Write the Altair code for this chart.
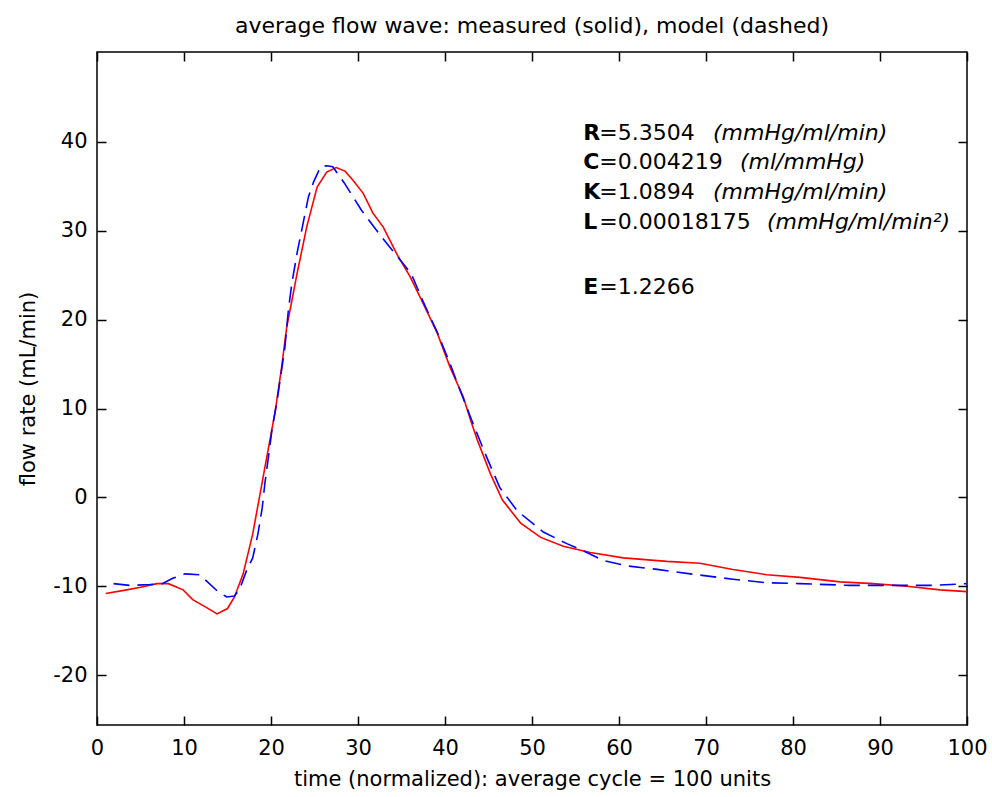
import altair as alt
import pandas as pd

# ---------------- data ----------------
measured_t = [1.0, 3.4, 5.0, 6.9, 8.2, 9.9, 11.0, 12.6, 13.8, 15.0, 15.8, 16.8, 17.9,
              19.1, 20.5, 21.2, 21.8, 23.0, 24.1, 25.3, 26.4, 27.5, 28.5, 29.4, 30.6,
              31.7, 32.9, 34.5, 36.0, 37.5, 39.1, 40.6, 42.1, 43.0, 43.7, 45.2, 46.6,
              48.7, 51.0, 53.6, 56.7, 60.5, 65.5, 69.3, 73.1, 77.0, 80.8, 85.4, 89.2,
              93.1, 96.9, 100.0]
measured_v = [-10.8, -10.4, -10.1, -9.7, -9.7, -10.4, -11.5, -12.4, -13.1, -12.5, -11.2, -8.6, -4.1,
              2.3, 9.8, 14.5, 19.1, 25.2, 30.4, 34.9, 36.6, 37.1, 36.7, 35.7, 34.2,
              32.0, 30.4, 27.3, 24.8, 21.8, 18.5, 14.6, 11.3, 8.5, 6.5, 2.7, -0.3,
              -2.9, -4.5, -5.5, -6.2, -6.8, -7.2, -7.4, -8.1, -8.7, -9.0, -9.5, -9.7,
              -10.0, -10.4, -10.6]

model_t = [1.9, 3.8, 6.1, 7.5, 8.7, 10.1, 11.8, 13.8, 14.9, 15.8, 16.4, 17.2, 17.9,
           18.5, 19.0, 19.3, 19.7, 20.1, 20.7, 21.6, 22.0, 22.4, 23.0, 23.6, 24.3,
           24.9, 25.7, 26.4, 27.1, 28.4, 30.4, 32.7, 34.6, 36.1, 37.5, 39.1, 40.6,
           41.6, 43.3, 44.8, 46.3, 48.3, 51.3, 54.0, 55.9, 58.2, 60.9, 64.4, 68.2,
           73.1, 77.0, 80.8, 86.6, 92.3, 96.1, 100.0]
model_v = [-9.7, -9.9, -9.8, -9.7, -9.1, -8.6, -8.7, -10.5, -11.2, -11.1, -10.3, -8.2, -6.8,
           -4.1, -1.1, 1.6, 4.5, 7.5, 10.9, 16.9, 21.1, 24.1, 27.5, 30.4, 33.8,
           35.5, 37.2, 37.3, 37.2, 35.4, 32.3, 29.3, 27.0, 25.2, 22.0, 18.6, 15.0,
           12.4, 8.1, 4.5, 1.1, -1.5, -3.9, -5.2, -6.0, -7.1, -7.7, -8.1, -8.6,
           -9.2, -9.6, -9.7, -9.9, -9.9, -9.9, -9.7]

x_ticks = [0, 10, 20, 30, 40, 50, 60, 70, 80, 90, 100]
y_ticks = [-20, -10, 0, 10, 20, 30, 40]

param_letters = ["R", "C", "K", "L", "E"]
param_values = ["=5.3504", "=0.004219", "=1.0894", "=0.00018175", "=1.2266"]
param_units = ["(mmHg/ml/min)", "(ml/mmHg)", "(mmHg/ml/min)", "(mmHg/ml/min\u00b2)", ""]

title_text = "average flow wave: measured (solid), model (dashed)"
x_title = "time (normalized): average cycle = 100 units"
y_title = "flow rate (mL/min)"

# ---------------- annotation placement (layout, not data) ----------------
ann_x = 55.9                                   # left edge of the parameter block
ann_y = [40.2, 36.9, 33.6, 30.2, 22.9]         # baselines (flow units)
unit_x = [70.8, 73.9, 70.8, 77.0, 77.0]        # start of italic unit text

FONT = "DejaVu Sans"
W, H = 870, 673
HYPHEN_LABEL = "datum.value < 0 ? '-' + abs(datum.value) : '' + datum.value"

df_meas = pd.DataFrame({"t": measured_t, "v": measured_v})
df_model = pd.DataFrame({"t": model_t, "v": model_v})
df_ann = pd.DataFrame({
    "letter": param_letters,
    "value": param_values,
    "unit": param_units,
    "lx": [ann_x] * len(param_letters),
    "ly": ann_y,
    "ux": unit_x,
})

x_scale = alt.Scale(domain=[0, 100], nice=False, zero=False)
y_scale = alt.Scale(domain=[-25.6, 50.1], nice=False, zero=False)

bottom_axis = alt.Axis(
    orient="bottom", values=x_ticks, offset=-9, tickSize=9, tickWidth=1.5, tickColor="black",
    domain=False, grid=False, labelPadding=12, labelFont=FONT, labelFontSize=21,
    labelColor="black", labelOverlap=False, labelFlush=False, labelExpr=HYPHEN_LABEL,
    titleFont=FONT, titleFontSize=21, titleFontWeight="normal", titleColor="black",
    titleBaseline="alphabetic", titleY=69,
)
top_axis = alt.Axis(
    orient="top", values=x_ticks, offset=-9, tickSize=9, tickWidth=1.5, tickColor="black",
    domain=False, grid=False, labels=False,
)
left_axis = alt.Axis(
    orient="left", values=y_ticks, offset=-9, tickSize=9, tickWidth=1.5, tickColor="black",
    domain=False, grid=False, labelPadding=10, labelFont=FONT, labelFontSize=21,
    labelColor="black", labelOverlap=False, labelFlush=False, labelExpr=HYPHEN_LABEL,
    titleFont=FONT, titleFontSize=21, titleFontWeight="normal", titleColor="black",
    titleBaseline="middle", titleX=-78, titleAngle=270,
)
right_axis = alt.Axis(
    orient="right", values=y_ticks, offset=-9, tickSize=9, tickWidth=1.5, tickColor="black",
    domain=False, grid=False, labels=False,
)

measured = alt.Chart(df_meas).mark_line(color="#ff0000", strokeWidth=1.6).encode(
    x=alt.X("t:Q", scale=x_scale, axis=bottom_axis, title=x_title),
    y=alt.Y("v:Q", scale=y_scale, axis=left_axis, title=y_title),
)

model = alt.Chart(df_model).mark_line(color="#0000ff", strokeWidth=1.6, strokeDash=[16, 8]).encode(
    x=alt.X("t:Q", scale=x_scale, axis=top_axis, title=None),
    y=alt.Y("v:Q", scale=y_scale, axis=right_axis, title=None),
)

letters = alt.Chart(df_ann).mark_text(
    align="left", baseline="alphabetic", font=FONT, fontSize=22, fontWeight="bold", color="black"
).encode(
    x=alt.X("lx:Q", scale=x_scale, axis=None),
    y=alt.Y("ly:Q", scale=y_scale, axis=None),
    text="letter:N",
)

values = alt.Chart(df_ann).mark_text(
    align="left", baseline="alphabetic", font=FONT, fontSize=22, color="black", dx=16
).encode(
    x=alt.X("lx:Q", scale=x_scale, axis=None),
    y=alt.Y("ly:Q", scale=y_scale, axis=None),
    text="value:N",
)

units = alt.Chart(df_ann).mark_text(
    align="left", baseline="alphabetic", font=FONT, fontSize=22, fontStyle="italic", color="black"
).encode(
    x=alt.X("ux:Q", scale=x_scale, axis=None),
    y=alt.Y("ly:Q", scale=y_scale, axis=None),
    text="unit:N",
)

chart = alt.layer(measured, model, letters, values, units).resolve_axis(
    x="independent", y="independent"
).properties(
    width=W,
    height=H,
    title=alt.TitleParams(
        text=title_text, font=FONT, fontSize=22, fontWeight="normal", color="black",
        anchor="middle", baseline="alphabetic", offset=-4,
    ),
    autosize=alt.AutoSizeParams(type="none"),
    padding={"left": 97, "top": 52, "right": 25, "bottom": 72},
    background="white",
).configure_view(
    stroke="black", strokeWidth=1.5
)

chart.save("out.html", embed_options={"renderer": "svg", "actions": False})
